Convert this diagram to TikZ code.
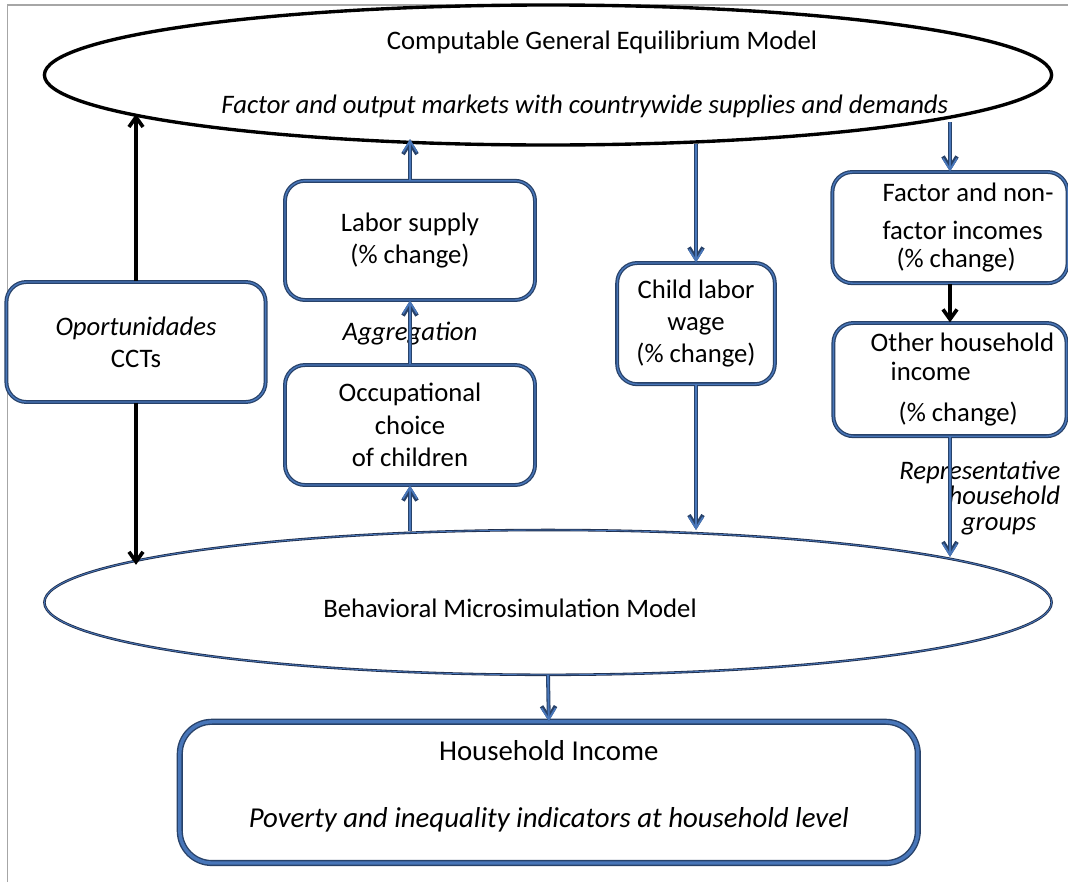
\documentclass[tikz,border=0pt]{standalone}
\usepackage{fontspec}
\setmainfont{Carlito}
\usetikzlibrary{shapes.geometric, arrows.meta}
\definecolor{boxedge}{RGB}{40,66,105}
\definecolor{arrowblue}{RGB}{72,118,185}
\definecolor{ovaledge}{RGB}{30,45,75}

\begin{document}
\begin{tikzpicture}[
    every node/.style={font=\fontsize{19}{23}\selectfont},
    box/.style={draw=boxedge, double=arrowblue, double distance=1pt, line width=0.9pt, rounded corners=0.5cm, align=center, inner sep=2pt},
    blu/.style={draw=arrowblue, line width=1.3pt, preaction={draw=boxedge, line width=2.8pt}, -{Straight Barb[length=8pt,width=10pt]}},
    blk/.style={line width=2.6pt, -{Straight Barb[length=7pt,width=10pt]}}
]
    \useasboundingbox (0,0) rectangle (26.7,-22.05);
    % page frame
    \draw[gray!70, line width=0.8pt] (0.19,-22.05) -- (0.19,-0.125) -- (26.7,-0.125);

    % the two models
    \node[ellipse, draw, line width=2.4pt, minimum width=25.18cm, minimum height=3.5cm] (cge) at (13.7,-1.875) {};
    \node (cgeTitle) at (15.05,-1.05) {Computable General Equilibrium Model};
    \node (cgeSub) at (14.62,-2.65) {\textit{Factor and output markets with countrywide supplies and demands}};

    \node[ellipse, draw=ovaledge, double=arrowblue, double distance=0.6pt, line width=0.6pt, minimum width=25.18cm, minimum height=3.62cm] (bmm) at (13.7,-15.06) {};
    \node (bmmTitle) at (12.75,-15.2) {Behavioral Microsimulation Model};

    % boxes in between
    \node[box, minimum width=6.48cm, minimum height=3cm] (opp) at (3.4,-8.55) {\textit{Oportunidades}\\CCTs};
    \node[box, minimum width=6.25cm, minimum height=2.98cm] (labor) at (10.25,-6.01) {Labor supply\\(\% change)};
    \node[box, minimum width=6.25cm, minimum height=3cm] (occ) at (10.25,-10.625) {Occupational\\choice\\of children};
    \node[box, minimum width=3.94cm, minimum height=3.03cm] (child) at (17.4,-8.09) {Child labor\\wage\\(\% change)};
    \node[box, align=left, minimum width=5.88cm, minimum height=2.78cm] (fac) at (23.75,-5.69)
        {\hspace*{0.9cm}Factor and non-\\[4pt]\hspace*{0.9cm}factor incomes\\[-3pt]\hspace*{1.25cm}(\% change)};
    \node[box, align=left, minimum width=5.83cm, minimum height=2.83cm] (oth) at (23.75,-9.49)
        {\hspace*{0.62cm}Other household\\[-2pt]\hspace*{1.12cm}income\\[6pt]\hspace*{1.32cm}(\% change)};
    \node[box, double distance=2.4pt, line width=1pt, rounded corners=0.8cm, minimum width=18.45cm, minimum height=3.53cm] (hh) at (13.72,-19.81)
        {\fontsize{20.5}{24}\selectfont Household Income\\[24pt]\fontsize{20.5}{24}\selectfont\textit{Poverty and inequality indicators at household level}\\[-11pt]\mbox{}};

    % labels on arrows
    \node (agg) at (10.25,-8.33) {\textit{Aggregation}};
    \node[anchor=east, align=right, font=\fontsize{19}{18}\selectfont\itshape] (rep) at (26.63,-12.45)
        {Representative\\household\\groups\hspace*{0.6cm}};

    % end points on the ellipses
    \coordinate (cgeOpp) at (3.4,-2.85);
    \coordinate (bmmOpp) at (3.4,-14.12);
    \coordinate (cgeLab) at (10.25,-3.48);
    \coordinate (bmmOcc) at (10.25,-13.28);
    \coordinate (cgeChild) at (17.4,-3.6);
    \coordinate (bmmChild) at (17.4,-13.25);
    \coordinate (cgeFac) at (23.75,-3.05);
    \coordinate (bmmOth) at (23.75,-13.92);

    \draw[blk] (opp.north) -- (cgeOpp);
    \draw[blk] (opp.south) -- (bmmOpp);
    \draw[blu] (labor.north) -- (cgeLab);
    \draw[blu] (occ.north) -- (labor.south);
    \draw[blu] (bmmOcc) -- (occ.south);
    \draw[blu] (cgeChild) -- (child.north);
    \draw[blu] (child.south) -- (bmmChild);
    \draw[blu] (cgeFac) -- (fac.north);
    \draw[blk] (fac.south) -- (oth.north);
    \draw[blu] (oth.south) -- (bmmOth);
    \draw[blu] (bmm.south) -- (hh.north);
\end{tikzpicture}
\end{document}
